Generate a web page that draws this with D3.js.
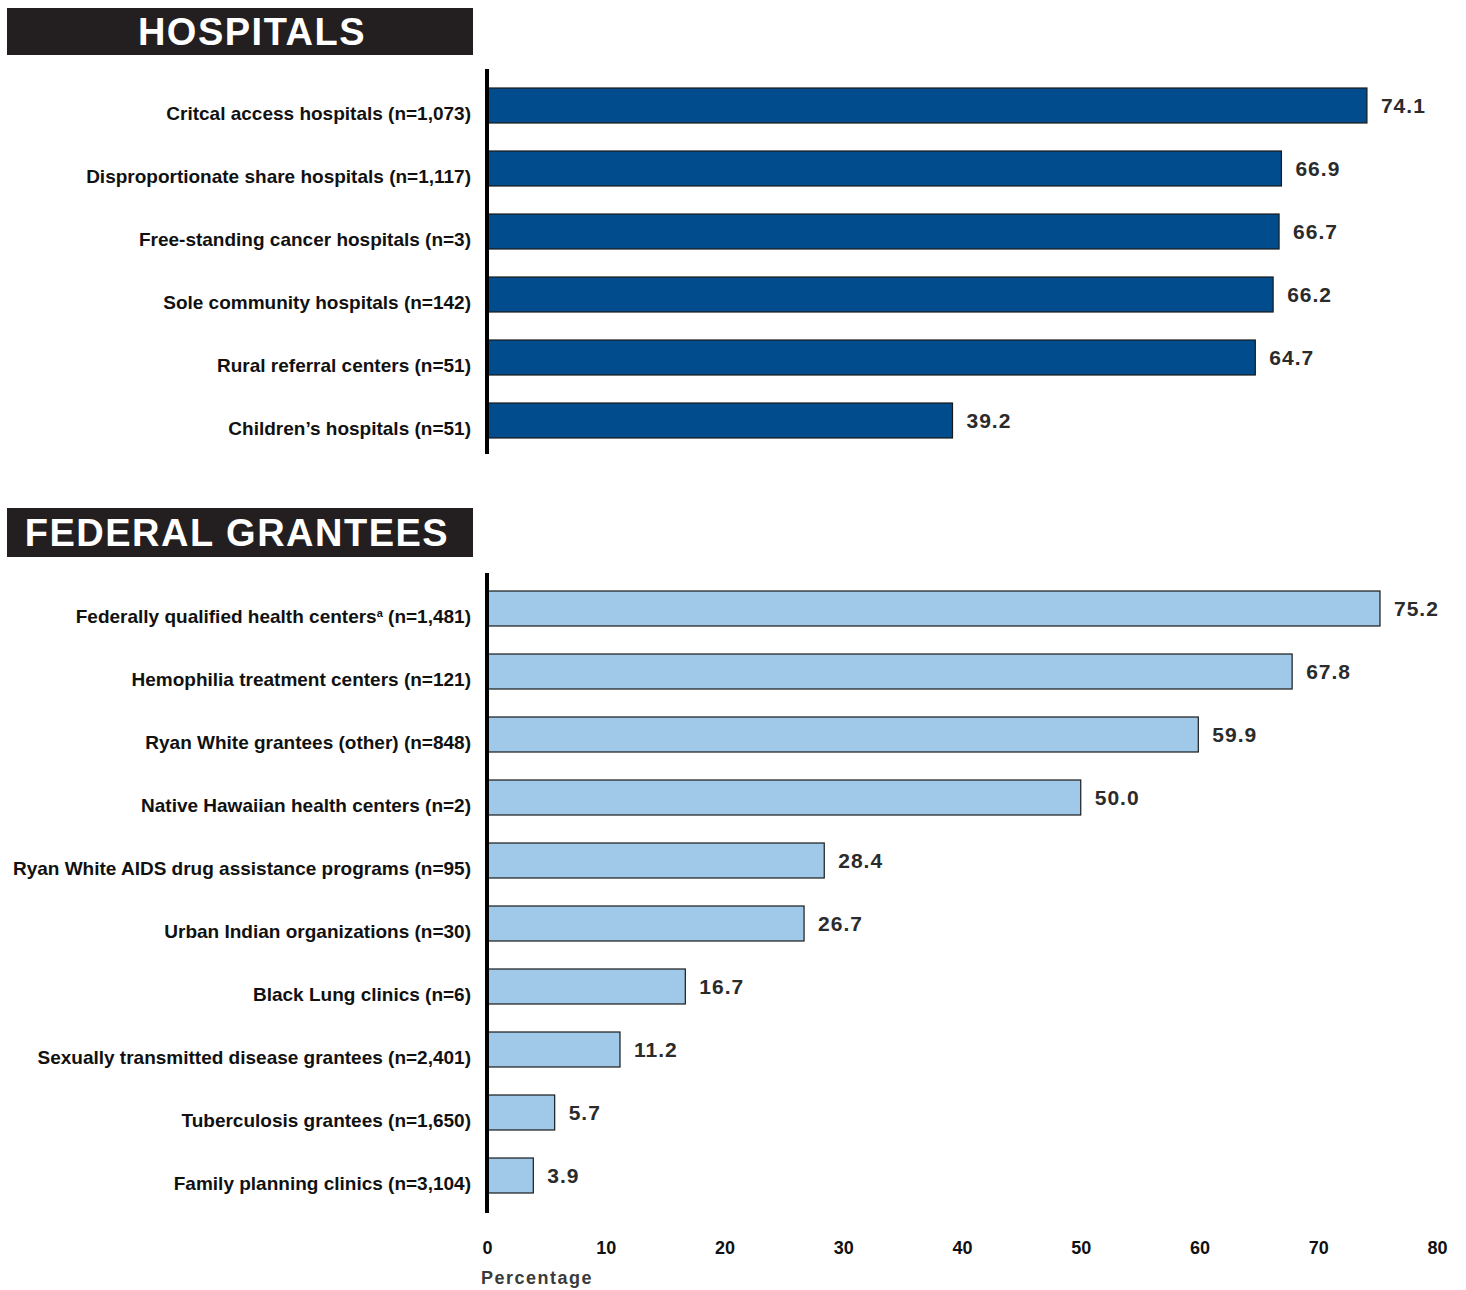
<!DOCTYPE html>
<html>
<head>
<meta charset="utf-8">
<script src="https://cdn.jsdelivr.net/npm/d3@7"></script>
<style>
  html, body { margin: 0; padding: 0; background: #fff; }
  svg { display: block; font-family: "Liberation Sans", Arial, Helvetica, sans-serif; }
</style>
</head>
<body>
<svg id="chart" width="1466" height="1290"></svg>
<script>
// ---- data ----
const hospTitle = "HOSPITALS";
const hospNames = [
  "Critcal access hospitals",
  "Disproportionate share hospitals",
  "Free-standing cancer hospitals",
  "Sole community hospitals",
  "Rural referral centers",
  "Children\u2019s hospitals"
];
const hospN = ["1,073", "1,117", "3", "142", "51", "51"];
const hospValues = [74.1, 66.9, 66.7, 66.2, 64.7, 39.2];

const fedTitle = "FEDERAL GRANTEES";
const fedNames = [
  "Federally qualified health centers",
  "Hemophilia treatment centers",
  "Ryan White grantees (other)",
  "Native Hawaiian health centers",
  "Ryan White AIDS drug assistance programs",
  "Urban Indian organizations",
  "Black Lung clinics",
  "Sexually transmitted disease grantees",
  "Tuberculosis grantees",
  "Family planning clinics"
];
const fedNotes = ["a", "", "", "", "", "", "", "", "", ""];
const fedN = ["1,481", "121", "848", "2", "95", "30", "6", "2,401", "1,650", "3,104"];
const fedValues = [75.2, 67.8, 59.9, 50.0, 28.4, 26.7, 16.7, 11.2, 5.7, 3.9];

const xTicks = [0, 10, 20, 30, 40, 50, 60, 70, 80];
const xTitle = "Percentage";

// ---- layout ----
const svg = d3.select("#chart");
const x = d3.scaleLinear().domain([0, 80]).range([487, 1437]);

const darkBlue = "#004c8d";
const lightBlue = "#9fc8e9";

function banner(title, y0, h, cx) {
  svg.append("rect").attr("x", 7).attr("y", y0).attr("width", 466).attr("height", h)
    .attr("fill", "#231f20");
  svg.append("text").attr("x", cx).attr("y", y0 + h / 2 + 13.5)
    .attr("text-anchor", "middle").attr("fill", "#fff")
    .attr("font-size", 38).attr("font-weight", "bold").attr("letter-spacing", 1.5)
    .text(title);
}

function panel(names, notes, ns, values, rangeTop, fill, axisTop, axisBottom) {
  const idx = d3.range(names.length);
  const y = d3.scaleBand().domain(idx).range([rangeTop, rangeTop + 63 * names.length])
    .paddingInner(28 / 63).paddingOuter(14 / 63);

  const g = svg.append("g");
  g.selectAll("rect.bar").data(idx).join("rect").attr("class", "bar")
    .attr("x", x(0)).attr("y", i => y(i))
    .attr("width", i => x(values[i]) - x(0)).attr("height", y.bandwidth())
    .attr("fill", fill).attr("stroke", "#1a1a1a").attr("stroke-width", 1.2);

  // category labels
  const lab = g.selectAll("text.lab").data(idx).join("text").attr("class", "lab")
    .attr("x", 471).attr("y", i => y(i) + y.bandwidth() / 2 + 14)
    .attr("text-anchor", "end").attr("font-size", 19).attr("font-weight", "bold")
    .attr("fill", "#111");
  lab.each(function (i) {
    const t = d3.select(this);
    t.append("tspan").text(names[i]);
    if (notes && notes[i]) {
      t.append("tspan").attr("font-size", 11).attr("dy", -6).text(notes[i]);
      t.append("tspan").attr("dy", 6).text(" (n=" + ns[i] + ")");
    } else {
      t.append("tspan").text(" (n=" + ns[i] + ")");
    }
  });

  // value labels
  g.selectAll("text.val").data(idx).join("text").attr("class", "val")
    .attr("x", i => x(values[i]) + 14).attr("y", i => y(i) + y.bandwidth() / 2 + 7.5)
    .attr("font-size", 21).attr("font-weight", "bold").attr("letter-spacing", 1)
    .attr("fill", "#2b2b2b")
    .text(i => values[i].toFixed(1));

  // axis line
  svg.append("line").attr("x1", x(0)).attr("x2", x(0)).attr("y1", axisTop).attr("y2", axisBottom)
    .attr("stroke", "#000").attr("stroke-width", 4);
}

banner(hospTitle, 8, 47, 252);
panel(hospNames, null, hospN, hospValues, 74, darkBlue, 69, 454);

banner(fedTitle, 508, 49, 237);
panel(fedNames, fedNotes, fedN, fedValues, 577, lightBlue, 573, 1213);

// x axis ticks (no axis line)
const axis = d3.axisBottom(x).tickValues(xTicks).tickSize(0).tickPadding(0);
const ax = svg.append("g").attr("transform", "translate(0,1241)").call(axis);
ax.select(".domain").remove();
ax.selectAll("text").attr("font-size", 18).attr("font-weight", "bold")
  .attr("fill", "#111").attr("font-family", "Liberation Sans, Arial, sans-serif")
  .attr("dy", "0.71em").attr("y", 0);

svg.append("text").attr("x", 481).attr("y", 1284)
  .attr("font-size", 18).attr("font-weight", "bold").attr("letter-spacing", 1.5)
  .attr("fill", "#3a3a3a").text(xTitle);
</script>
</body>
</html>
